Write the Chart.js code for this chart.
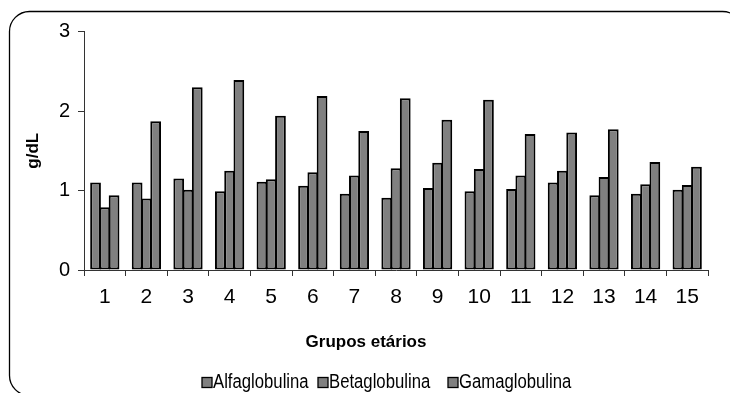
<!DOCTYPE html>
<html>
<head>
<meta charset="utf-8">
<script src="https://cdn.jsdelivr.net/npm/chart.js@4/dist/chart.umd.min.js"></script>
<style>
  html, body { margin: 0; padding: 0; background: #fff; }
  #wrap { width: 730px; height: 393px; position: relative; }
</style>
</head>
<body>
<div id="wrap"><canvas id="c" width="730" height="393"></canvas></div>
<script>
// Age groups and serum globulin fractions (g/dL)
const grupos = ['1','2','3','4','5','6','7','8','9','10','11','12','13','14','15'];
const alfaglobulina = [1.10, 1.10, 1.15, 0.99, 1.11, 1.06, 0.96, 0.91, 1.03, 0.99, 1.02, 1.10, 0.94, 0.96, 1.01];
const betaglobulina = [0.79, 0.90, 1.01, 1.25, 1.14, 1.23, 1.19, 1.28, 1.35, 1.27, 1.19, 1.25, 1.17, 1.08, 1.07];
const gamaglobulina = [0.94, 1.87, 2.30, 2.39, 1.94, 2.19, 1.75, 2.16, 1.89, 2.14, 1.71, 1.73, 1.77, 1.36, 1.30];
const yTicks = [0, 1, 2, 3];
const xTitle = 'Grupos etários';
const yTitle = 'g/dL';

const FONT = "'Liberation Sans', Arial, sans-serif";
const BAR_FILL = '#808080';
const BAR_EDGE = '#000000';

// Rounded outer frame around the whole chart
const framePlugin = {
  id: 'frame',
  beforeDraw(chart) {
    const ctx = chart.ctx;
    ctx.save();
    ctx.fillStyle = '#fff';
    ctx.fillRect(0, 0, chart.width, chart.height);
    const x = 9.5, y = 11.5, w = 733, h = 384, r = 20;
    ctx.beginPath();
    ctx.moveTo(x + r, y);
    ctx.lineTo(x + w - r, y);
    ctx.arcTo(x + w, y, x + w, y + r, r);
    ctx.lineTo(x + w, y + h - r);
    ctx.arcTo(x + w, y + h, x + w - r, y + h, r);
    ctx.lineTo(x + r, y + h);
    ctx.arcTo(x, y + h, x, y + h - r, r);
    ctx.lineTo(x, y + r);
    ctx.arcTo(x, y, x + r, y, r);
    ctx.closePath();
    ctx.lineWidth = 1.3;
    ctx.strokeStyle = '#000';
    ctx.stroke();
    ctx.restore();
  }
};

// Horizontal axis title, set a little left of the plot centre
const xTitlePlugin = {
  id: 'xTitle',
  afterDraw(chart) {
    const ctx = chart.ctx;
    ctx.save();
    ctx.font = `bold 17px ${FONT}`;
    ctx.fillStyle = '#000';
    ctx.textAlign = 'center';
    ctx.textBaseline = 'alphabetic';
    ctx.fillText(xTitle, 366, 347);
    ctx.restore();
  }
};

// Compact legend: square swatch immediately followed by a condensed series name
const legendPlugin = {
  id: 'compactLegend',
  afterDraw(chart) {
    const ctx = chart.ctx;
    const starts = [202, 318, 448];
    const squeeze = 0.835;
    ctx.save();
    ctx.font = `20px ${FONT}`;
    ctx.textBaseline = 'alphabetic';
    ctx.textAlign = 'left';
    chart.data.datasets.forEach((ds, i) => {
      const x = starts[i];
      ctx.fillStyle = ds.backgroundColor;
      ctx.fillRect(x, 377.5, 10, 10);
      ctx.lineWidth = 1.3;
      ctx.strokeStyle = ds.borderColor;
      ctx.strokeRect(x, 377.5, 10, 10);
      ctx.save();
      ctx.translate(x + 11, 388);
      ctx.scale(squeeze, 1);
      ctx.fillStyle = '#000';
      ctx.fillText(ds.label, 0, 0);
      ctx.restore();
    });
    ctx.restore();
  }
};

function series(label, data) {
  return {
    label,
    data,
    backgroundColor: BAR_FILL,
    borderColor: BAR_EDGE,
    borderWidth: 2,
    borderSkipped: false,
    inflateAmount: 0,
    barPercentage: 1.16,
    categoryPercentage: 0.668
  };
}

new Chart(document.getElementById('c'), {
  type: 'bar',
  data: {
    labels: grupos,
    datasets: [
      series('Alfaglobulina', alfaglobulina),
      series('Betaglobulina', betaglobulina),
      series('Gamaglobulina', gamaglobulina)
    ]
  },
  plugins: [framePlugin, xTitlePlugin, legendPlugin],
  options: {
    responsive: false,
    animation: false,
    devicePixelRatio: 1,
    layout: { padding: { left: 0, right: 22, top: 31.5, bottom: 0 } },
    plugins: {
      tooltip: { enabled: false },
      legend: { display: false }
    },
    scales: {
      x: {
        grid: {
          offset: true,
          drawOnChartArea: false,
          drawTicks: true,
          tickLength: 6,
          color: '#333'
        },
        border: { display: true, color: '#333', width: 1 },
        ticks: {
          color: '#000',
          font: { family: FONT, size: 21 },
          padding: 9,
          maxRotation: 0
        },
        afterFit(scale) { scale.height = 123; }
      },
      y: {
        min: 0,
        max: 3,
        afterBuildTicks(scale) { scale.ticks = yTicks.map(v => ({ value: v })); },
        grid: {
          drawOnChartArea: false,
          drawTicks: true,
          tickLength: 6,
          color: '#333'
        },
        border: { display: true, color: '#333', width: 1 },
        ticks: {
          color: '#000',
          font: { family: FONT, size: 20 },
          padding: 8
        },
        title: {
          display: true,
          text: yTitle,
          color: '#000',
          font: { family: FONT, size: 17, weight: 'bold' },
          padding: { top: 23.4, bottom: 0 }
        },
        afterFit(scale) { scale.width = 84; }
      }
    }
  }
});
</script>
</body>
</html>
